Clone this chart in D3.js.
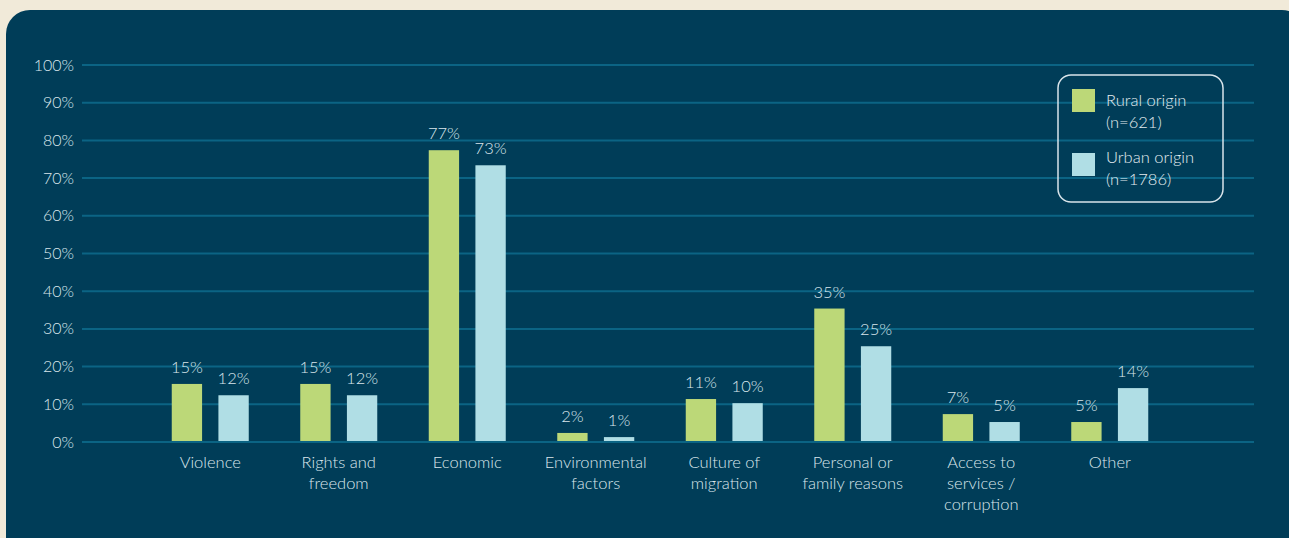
<!DOCTYPE html>
<html><head><meta charset="utf-8">
<script src="https://cdn.jsdelivr.net/npm/d3@7"></script>
<style>
html,body{margin:0;padding:0;background:#F1EAD9;}
svg{display:block;font-family:Lato,"Open Sans",sans-serif;font-weight:300;}
</style></head>
<body>
<svg id="chart" width="1289" height="538"></svg>
<script>
const categories = [["Violence"],["Rights and","freedom"],["Economic"],["Environmental","factors"],["Culture of","migration"],["Personal or","family reasons"],["Access to","services /","corruption"],["Other"]];
const rural = [15.4,15.4,77.4,2.4,11.4,35.4,7.4,5.3];
const urban = [12.4,12.4,73.4,1.3,10.3,25.4,5.3,14.3];
const seriesNames = ["Rural origin","Urban origin"];
const seriesN = ["(n=621)","(n=1786)"];
const yTicks = [0,10,20,30,40,50,60,70,80,90,100];
const colors = ["#BCD878","#B0DEE5"];
const textColor = "#DAE6EC";

const svg = d3.select("#chart");
svg.append("rect").attr("x",6).attr("y",10).attr("width",1300).attr("height",560).attr("rx",24).attr("fill","#003D58");

const y = d3.scaleLinear().domain([0,100]).range([442,65]);
const x = d3.scaleBand().domain(d3.range(categories.length)).range([146,1174]);
const xs = d3.scaleBand().domain([0,1]).range([0,77]).paddingInner(0.35);

// grid
svg.append("g").selectAll("line").data(yTicks).join("line")
  .attr("x1",82).attr("x2",1254).attr("y1",d=>y(d)).attr("y2",d=>y(d))
  .attr("stroke","#0B6484").attr("stroke-width",2);
svg.append("g").selectAll("text").data(yTicks).join("text")
  .attr("x",74).attr("y",d=>y(d)+5.5).attr("text-anchor","end")
  .attr("fill",textColor).attr("font-size",16).text(d=>d+"%");

const data = categories.map((c,i)=>({i, vals:[rural[i],urban[i]]}));
const groups = svg.append("g").selectAll("g").data(data).join("g")
  .attr("transform",d=>`translate(${x(d.i)+x.bandwidth()/2-38.5},0)`);
groups.selectAll("rect").data(d=>d.vals.map((v,k)=>({v,k}))).join("rect")
  .attr("x",d=>xs(d.k)).attr("width",xs.bandwidth())
  .attr("y",d=>y(d.v)).attr("height",d=>y(0)-1-y(d.v)).attr("fill",d=>colors[d.k]);
groups.selectAll("text.v").data(d=>d.vals.map((v,k)=>({v,k}))).join("text").attr("class","v")
  .attr("x",d=>xs(d.k)+xs.bandwidth()/2).attr("y",d=>y(d.v)-11)
  .attr("text-anchor","middle").attr("fill",textColor).attr("font-size",16.5).text(d=>Math.round(d.v)+"%");

// category labels
const cl = svg.append("g").selectAll("text").data(data).join("text")
  .attr("x",d=>x(d.i)+x.bandwidth()/2).attr("y",468).attr("text-anchor","middle")
  .attr("fill",textColor).attr("font-size",16.5);
cl.selectAll("tspan").data(d=>categories[d.i]).join("tspan")
  .attr("x",function(){return this.parentNode.getAttribute("x");})
  .attr("dy",(d,j)=>j===0?0:21).text(d=>d);

// legend
const lg = svg.append("g");
lg.append("rect").attr("x",1058).attr("y",75).attr("width",165).attr("height",127).attr("rx",13)
  .attr("fill","none").attr("stroke","#D8E4EA").attr("stroke-width",1.5);
const swatchY = [89,153], textY = [106,163];
seriesNames.forEach((s,k)=>{
  lg.append("rect").attr("x",1072).attr("y",swatchY[k]).attr("width",23).attr("height",23).attr("fill",colors[k]);
  const t = lg.append("text").attr("x",1106).attr("y",textY[k]).attr("fill","#E4EDF1").attr("font-size",16.5);
  t.append("tspan").attr("x",1106).text(s);
  t.append("tspan").attr("x",1106).attr("dy",21.5).text(seriesN[k]);
});
</script>
</body></html>
